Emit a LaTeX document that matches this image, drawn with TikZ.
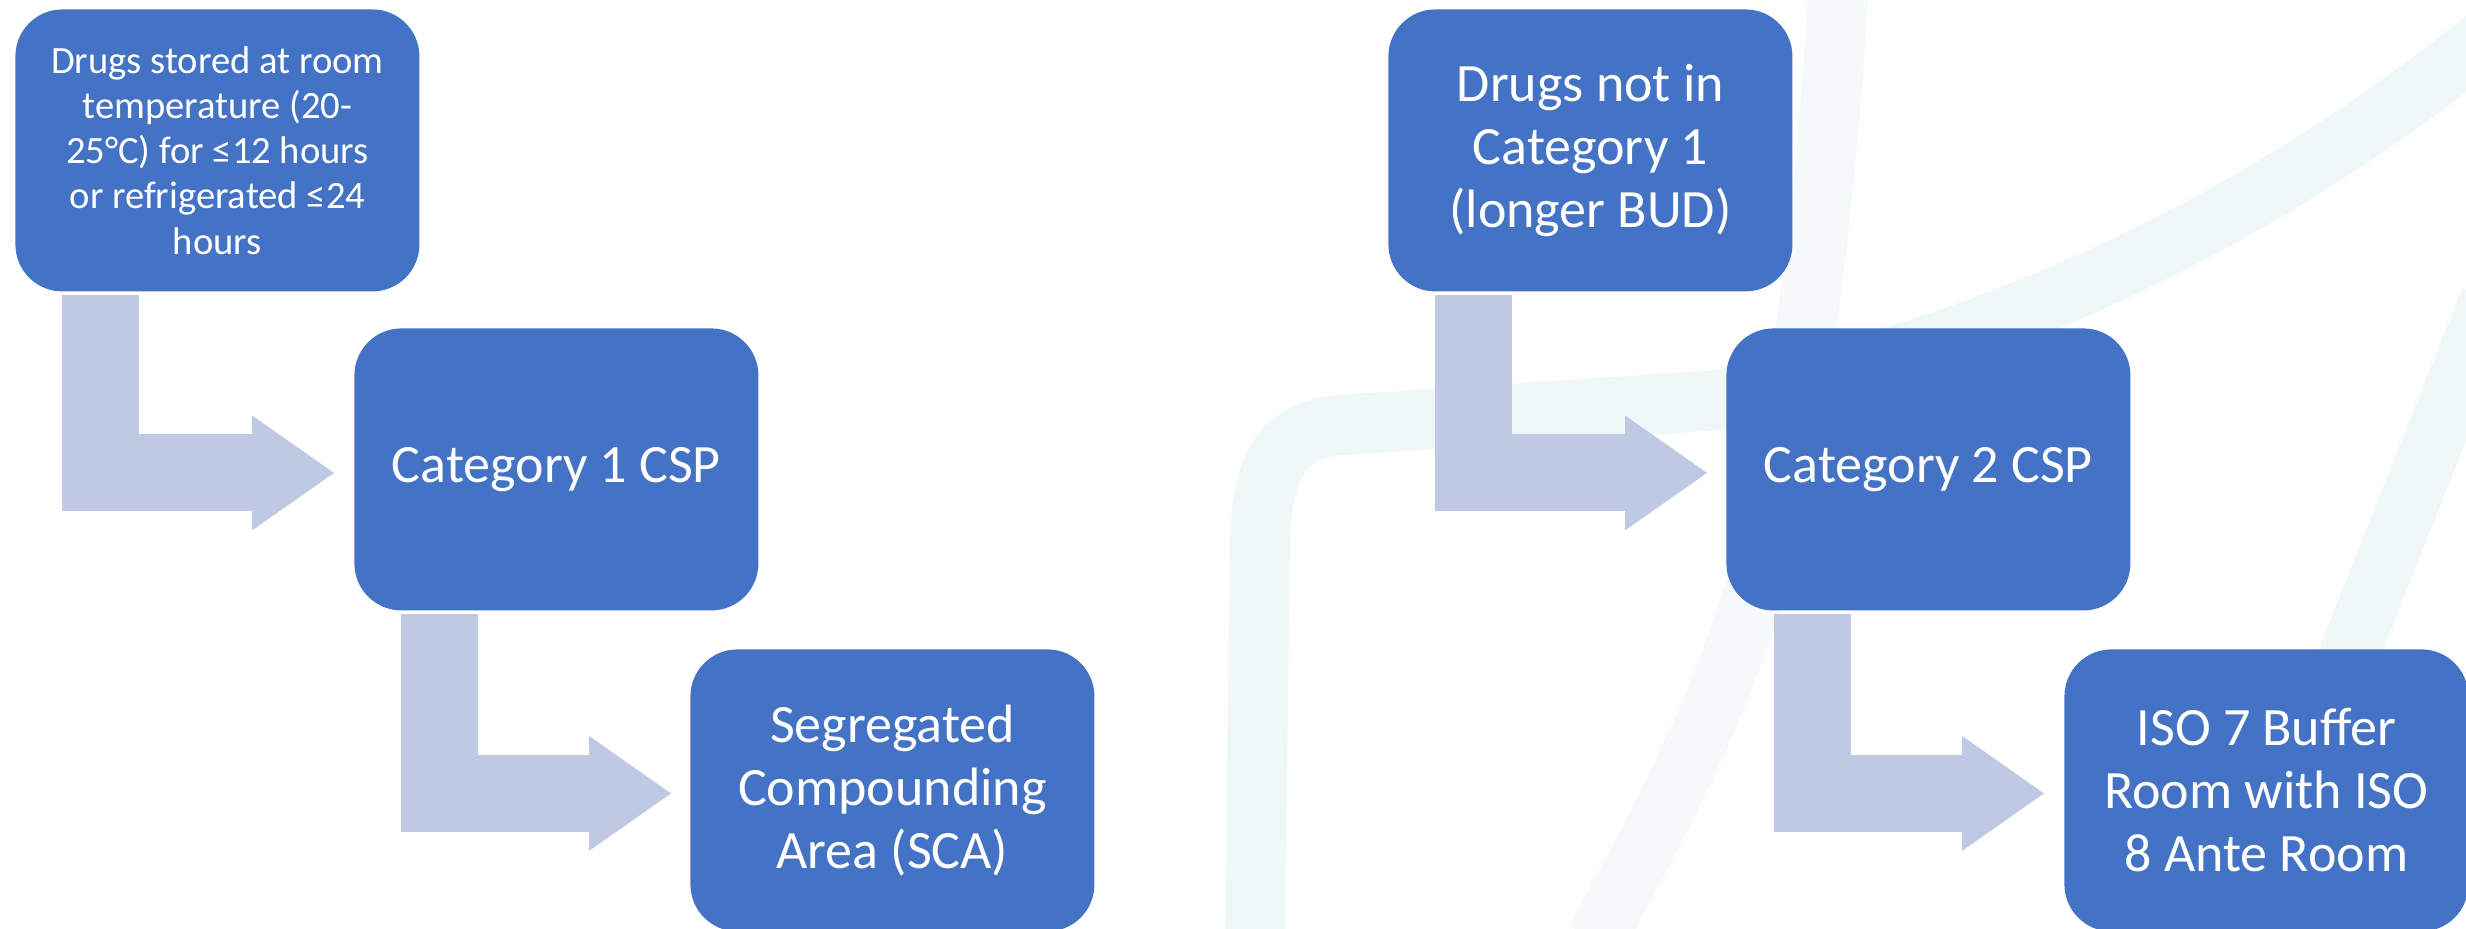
\documentclass[tikz,border=0pt]{standalone}
\usepackage{fontspec}
\setmainfont{Carlito}
\usetikzlibrary{arrows.meta,calc}
\definecolor{boxblue}{HTML}{4472C4}
\definecolor{arrowblue}{HTML}{BFC9E3}
\definecolor{bandA}{HTML}{EFF7F7}
\definecolor{bandB}{HTML}{F5F9F9}
\begin{document}
\begin{tikzpicture}[x=0.5pt,y=-0.5pt,
  box/.style={fill=boxblue, rounded corners=23.5pt, minimum width=202pt, minimum height=141pt,
    inner sep=0pt, text=white, align=center, anchor=north west, font=\fontsize{27}{31.5}\selectfont},
  smalltext/.style={font=\fontsize{19.3}{22.6}\selectfont},
  conn/.style={draw=arrowblue, line width=38.5pt, line join=miter,
    -{Triangle[length=41pt,width=57.5pt,line width=0pt]}},
  band/.style={line width=30pt, line cap=butt}]
\useasboundingbox (0,0) rectangle (2466,928);
\fill[white] (0,0) rectangle (2466,928);
% faint background bands
\begin{scope}
\clip (0,0) rectangle (2466,928);
\draw[band, draw=bandA] (2490,35) .. controls (2250,230) and (1980,350) .. (1720,400)
  -- (1340,425) .. controls (1280,430) and (1262,470) .. (1260,540) -- (1255,940);
\draw[band, draw=bandB] (1838,-10) .. controls (1825,250) and (1785,500) .. (1745,620)
  .. controls (1705,740) and (1645,850) .. (1595,940);
\draw[band, draw=bandA] (2490,300) .. controls (2430,450) and (2370,600) .. (2300,780);
\end{scope}
% boxes
\node[box, smalltext] (b1) at (15,9) {Drugs stored at room\\temperature (20-\\25°C) for ≤12 hours\\or refrigerated ≤24\\hours};
\node[box] (b2) at (354,328) {Category 1 CSP};
\node[box] (b3) at (690,649) {Segregated\\Compounding\\Area (SCA)};
\node[box] (b4) at (1388,9) {Drugs not in\\Category 1\\(longer BUD)};
\node[box] (b5) at (1726,328) {Category 2 CSP};
\node[box] (b6) at (2064,649) {ISO 7 Buffer\\Room with ISO\\8 Ante Room};
% bent arrows
\draw[conn] ($(b1.south west)+(85.5,3)$) |- ($(b2.west)+(-20,3.5)$);
\draw[conn] ($(b2.south west)+(85,3)$) |- ($(b3.west)+(-19,3)$);
\draw[conn] ($(b4.south west)+(85.5,3)$) |- ($(b5.west)+(-19,3.5)$);
\draw[conn] ($(b5.south west)+(86,3)$) |- ($(b6.west)+(-20,3)$);
\end{tikzpicture}
\end{document}
